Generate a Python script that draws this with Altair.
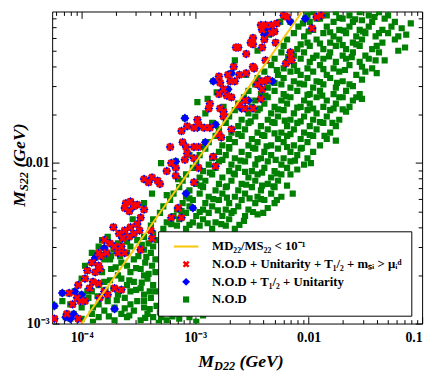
import altair as alt
import pandas as pd

SERIF = "Liberation Serif"

# ---- data (log10 of M_D22 and M_S22, in GeV) ----
green_log = [
    (-2.01,-1.08),(-1.96,-1.06),(-1.84,-1.08),(-1.76,-1.06),(-1.64,-1.08),(-1.55,-1.06),(-1.47,-1.08),(-1.38,-1.06),(-1.30,-1.08),
    (-2.05,-1.13),(-1.99,-1.12),(-1.90,-1.10),(-1.78,-1.12),(-1.70,-1.10),(-1.61,-1.12),(-1.53,-1.11),(-1.44,-1.12),(-1.33,-1.10),(-1.24,-1.12),(-1.10,-1.13),
    (-2.09,-1.15),(-1.96,-1.17),(-1.84,-1.15),(-1.73,-1.17),(-1.64,-1.15),(-1.55,-1.17),(-1.47,-1.15),(-1.35,-1.17),(-1.27,-1.15),
    (-2.13,-1.19),(-2.04,-1.21),(-1.87,-1.19),(-1.78,-1.21),(-1.67,-1.19),(-1.58,-1.21),(-1.50,-1.19),(-1.41,-1.21),(-1.30,-1.19),(-1.21,-1.21),
    (-2.19,-1.23),(-2.01,-1.25),(-1.93,-1.23),(-1.81,-1.25),(-1.73,-1.23),(-1.61,-1.25),(-1.53,-1.23),(-1.35,-1.25),(-1.24,-1.23),
    (-2.22,-1.27),(-2.10,-1.29),(-1.99,-1.27),(-1.87,-1.29),(-1.76,-1.27),(-1.67,-1.29),(-1.55,-1.27),(-1.44,-1.29),(-1.15,-1.28),(-1.21,-1.30),
    (-2.24,-1.31),(-2.13,-1.33),(-2.04,-1.31),(-1.93,-1.33),(-1.81,-1.31),(-1.70,-1.33),(-1.61,-1.31),(-1.50,-1.33),(-1.38,-1.31),
    (-2.30,-1.35),(-2.19,-1.37),(-2.07,-1.35),(-1.99,-1.37),(-1.87,-1.35),(-1.76,-1.37),(-1.67,-1.35),(-1.55,-1.37),(-1.33,-1.36),(-1.41,-1.36),
    (-2.33,-1.39),(-2.22,-1.41),(-2.13,-1.39),(-2.01,-1.41),(-1.90,-1.39),(-1.78,-1.41),(-1.64,-1.39),(-1.44,-1.41),(-1.53,-1.40),
    (-2.39,-1.43),(-2.27,-1.45),(-2.16,-1.43),(-2.07,-1.45),(-1.96,-1.43),(-1.84,-1.45),(-1.73,-1.43),(-1.58,-1.45),(-1.50,-1.43),
    (-2.45,-1.47),(-2.33,-1.49),(-2.22,-1.47),(-2.13,-1.49),(-2.01,-1.47),(-1.93,-1.49),(-1.81,-1.47),(-1.70,-1.49),(-1.53,-1.48),
    (-2.47,-1.51),(-2.36,-1.53),(-2.24,-1.51),(-2.16,-1.53),(-2.04,-1.51),(-1.96,-1.53),(-1.87,-1.51),(-1.76,-1.53),(-1.61,-1.52),
    (-2.53,-1.55),(-2.42,-1.57),(-2.30,-1.55),(-2.22,-1.57),(-2.10,-1.55),(-1.99,-1.57),(-1.90,-1.55),(-1.78,-1.57),(-1.67,-1.55),(-1.55,-1.57),
    (-2.57,-1.59),(-2.47,-1.61),(-2.36,-1.59),(-2.24,-1.61),(-2.16,-1.59),(-2.04,-1.61),(-1.93,-1.59),(-1.84,-1.61),(-1.73,-1.59),(-1.61,-1.61),(-1.53,-1.60),
    (-2.62,-1.63),(-2.50,-1.65),(-2.39,-1.63),(-2.30,-1.65),(-2.19,-1.63),(-2.07,-1.65),(-1.99,-1.63),(-1.87,-1.65),(-1.76,-1.63),(-1.64,-1.65),
    (-2.65,-1.67),(-2.53,-1.69),(-2.45,-1.67),(-2.33,-1.69),(-2.22,-1.67),(-2.13,-1.69),(-2.01,-1.67),(-1.93,-1.69),(-1.81,-1.67),(-1.67,-1.68),
    (-2.70,-1.71),(-2.59,-1.73),(-2.47,-1.71),(-2.36,-1.73),(-2.27,-1.71),(-2.16,-1.73),(-2.04,-1.71),(-1.96,-1.73),(-1.84,-1.71),(-1.73,-1.73),
    (-2.73,-1.75),(-2.62,-1.77),(-2.53,-1.75),(-2.42,-1.77),(-2.30,-1.75),(-2.19,-1.77),(-2.10,-1.75),(-1.99,-1.77),(-1.87,-1.75),(-1.76,-1.77),
    (-2.79,-1.79),(-2.68,-1.81),(-2.56,-1.79),(-2.45,-1.81),(-2.36,-1.79),(-2.24,-1.81),(-2.13,-1.79),(-2.04,-1.81),(-1.93,-1.79),(-1.81,-1.81),
    (-2.82,-1.83),(-2.70,-1.85),(-2.59,-1.83),(-2.50,-1.85),(-2.39,-1.83),(-2.27,-1.85),(-2.19,-1.83),(-2.07,-1.85),(-1.96,-1.83),(-1.84,-1.85),(-1.76,-1.86),
    (-2.88,-1.87),(-2.76,-1.89),(-2.65,-1.87),(-2.53,-1.89),(-2.45,-1.87),(-2.33,-1.89),(-2.22,-1.87),(-2.13,-1.89),(-2.01,-1.87),(-1.90,-1.89),
    (-2.91,-1.91),(-2.79,-1.93),(-2.70,-1.91),(-2.59,-1.93),(-2.47,-1.91),(-2.39,-1.93),(-2.27,-1.91),(-2.16,-1.93),(-2.07,-1.91),(-1.96,-1.93),
    (-2.96,-1.95),(-2.85,-1.97),(-2.73,-1.95),(-2.65,-1.97),(-2.53,-1.95),(-2.42,-1.97),(-2.33,-1.95),(-2.22,-1.97),(-2.10,-1.95),(-2.01,-1.97),
    (-2.99,-1.99),(-2.88,-2.01),(-2.79,-1.99),(-2.68,-2.01),(-2.56,-1.99),(-2.47,-2.01),(-2.36,-1.99),(-2.24,-2.01),(-2.16,-1.99),(-2.04,-2.01),
    (-3.02,-2.03),(-2.93,-2.05),(-2.82,-2.03),(-2.70,-2.05),(-2.62,-2.03),(-2.50,-2.05),(-2.39,-2.03),(-2.30,-2.05),(-2.19,-2.03),(-2.10,-2.04),
    (-3.08,-2.07),(-2.96,-2.09),(-2.85,-2.07),(-2.76,-2.09),(-2.65,-2.07),(-2.53,-2.09),(-2.45,-2.07),(-2.33,-2.09),(-2.24,-2.07),
    (-3.11,-2.11),(-2.99,-2.13),(-2.91,-2.11),(-2.79,-2.13),(-2.68,-2.11),(-2.59,-2.13),(-2.47,-2.11),(-2.36,-2.13),(-2.27,-2.11),(-2.19,-2.14),
    (-3.14,-2.15),(-3.05,-2.17),(-2.93,-2.15),(-2.82,-2.17),(-2.73,-2.15),(-2.62,-2.17),(-2.50,-2.15),(-2.42,-2.17),(-2.30,-2.15),(-2.14,-2.19),
    (-3.19,-2.19),(-3.08,-2.21),(-2.96,-2.19),(-2.88,-2.21),(-2.76,-2.19),(-2.65,-2.21),(-2.56,-2.19),(-2.45,-2.21),(-2.33,-2.19),(-2.24,-2.21),
    (-3.22,-2.23),(-3.11,-2.25),(-3.02,-2.23),(-2.91,-2.25),(-2.79,-2.23),(-2.70,-2.25),(-2.59,-2.23),(-2.47,-2.25),(-2.39,-2.23),(-2.30,-2.25),
    (-3.28,-2.27),(-3.16,-2.29),(-3.05,-2.27),(-2.93,-2.29),(-2.85,-2.27),(-2.73,-2.29),(-2.62,-2.27),(-2.53,-2.29),(-2.36,-2.28),
    (-3.31,-2.31),(-3.19,-2.33),(-3.08,-2.31),(-2.99,-2.33),(-2.88,-2.31),(-2.76,-2.33),(-2.68,-2.31),(-2.56,-2.33),(-2.45,-2.32),
    (-3.37,-2.35),(-3.25,-2.37),(-3.14,-2.35),(-3.02,-2.37),(-2.93,-2.35),(-2.82,-2.37),(-2.70,-2.35),(-2.57,-2.36),
    (-3.39,-2.39),(-3.28,-2.41),(-3.16,-2.39),(-3.08,-2.41),(-2.96,-2.39),(-2.85,-2.41),(-2.73,-2.39),(-2.65,-2.41),
    (-3.77,-2.46),(-3.62,-2.44),(-3.45,-2.46),(-3.37,-2.44),
    (-3.82,-2.48),(-3.68,-2.50),(-3.51,-2.48),(-3.41,-2.50),(-3.34,-2.48),
    (-3.85,-2.52),(-3.72,-2.54),(-3.57,-2.52),(-3.45,-2.54),(-3.37,-2.52),
    (-3.91,-2.56),(-3.74,-2.58),(-3.60,-2.56),(-3.50,-2.58),(-3.39,-2.56),
    (-3.80,-2.60),(-3.65,-2.62),(-3.54,-2.60),(-3.44,-2.62),(-3.35,-2.60),
    (-3.97,-2.64),(-3.74,-2.66),(-3.60,-2.64),(-3.48,-2.66),(-3.38,-2.64),
    (-3.82,-2.68),(-3.68,-2.70),(-3.57,-2.68),(-3.45,-2.70),(-3.35,-2.68),
    (-4.00,-2.72),(-3.80,-2.74),(-3.65,-2.72),(-3.54,-2.74),(-3.42,-2.72),
    (-3.85,-2.76),(-3.72,-2.78),(-3.60,-2.76),(-3.48,-2.78),(-3.37,-2.76),
    (-3.91,-2.80),(-3.68,-2.82),(-3.57,-2.80),(-3.45,-2.82),(-3.35,-2.80),
    (-4.17,-2.86),(-3.94,-2.84),(-3.77,-2.86),(-3.62,-2.84),(-3.51,-2.86),(-3.39,-2.84),
    (-4.26,-2.88),(-4.00,-2.90),(-3.85,-2.88),(-3.71,-2.90),(-3.57,-2.88),(-3.45,-2.90),(-3.34,-2.89),
    (-3.91,-2.94),(-3.80,-2.92),(-3.65,-2.94),(-3.54,-2.92),(-3.42,-2.94),(-3.31,-2.93),(-3.19,-2.94),(-3.11,-2.93),(-2.99,-2.93),(-2.88,-2.92),
    (-4.00,-2.97),(-3.85,-2.96),(-3.71,-2.98),(-3.60,-2.96),(-3.48,-2.98),(-3.37,-2.96),(-3.25,-2.98),(-3.14,-2.97),(-2.99,-2.99),
    (-2.65,-1.36),(-2.98,-1.62),(-2.81,-1.56),(-2.89,-1.60),(-2.91,-1.69),(-3.30,-2.00),(-3.38,-2.19),(-3.25,-2.20),(-3.15,-2.10),
    (-3.05,-1.95),(-2.95,-1.90),(-2.85,-1.75),(-2.75,-1.65),(-2.55,-1.45),(-2.45,-1.30),(-2.35,-1.20),(-2.25,-1.12),(-3.55,-2.35),
    (-3.65,-2.45),(-3.45,-2.25),(-3.75,-2.60),(-3.95,-2.80),(-4.10,-2.88),
    (-1.93,-1.100),(-1.73,-1.095),(-1.59,-1.105),(-1.42,-1.090),(-1.18,-1.160),
    (-2.00,-1.180),(-1.81,-1.185),(-1.69,-1.175),(-1.52,-1.180),(-1.38,-1.190),(-1.14,-1.200),
    (-2.07,-1.260),(-1.90,-1.255),(-1.70,-1.265),(-1.58,-1.260),(-1.40,-1.270),
    (-2.18,-1.340),(-1.96,-1.345),(-1.82,-1.335),(-1.62,-1.340),(-1.47,-1.350),
    (-2.28,-1.420),(-2.10,-1.425),(-1.87,-1.415),(-1.68,-1.420),(-1.40,-1.440),
    (-2.30,-1.500),(-2.08,-1.505),(-1.90,-1.495),(-1.75,-1.500),(-1.64,-1.510),
    (-2.38,-1.580),(-2.20,-1.585),(-2.01,-1.575),(-1.88,-1.580),(-1.70,-1.590),(-1.58,-1.590),
    (-2.43,-1.660),(-2.27,-1.665),(-2.10,-1.655),(-1.96,-1.660),(-1.78,-1.660),(-1.70,-1.665),
    (-2.51,-1.740),(-2.32,-1.745),(-2.21,-1.735),(-2.07,-1.740),(-1.90,-1.745),(-1.79,-1.750),
    (-2.62,-1.820),(-2.41,-1.825),(-2.30,-1.815),(-2.16,-1.820),(-1.99,-1.825),(-1.86,-1.830),
    (-2.70,-1.900),(-2.49,-1.905),(-2.37,-1.895),(-2.19,-1.900),(-2.06,-1.905),
    (-2.76,-1.980),(-2.60,-1.985),(-2.45,-1.975),(-2.29,-1.980),(-2.12,-1.985),(-1.98,-2.000),
    (-2.87,-2.060),(-2.66,-2.065),(-2.56,-2.055),(-2.41,-2.060),(-2.28,-2.065),(-2.16,-2.070),
    (-2.95,-2.140),(-2.72,-2.145),(-2.55,-2.135),(-2.41,-2.140),(-2.31,-2.145),
    (-3.05,-2.220),(-2.84,-2.225),(-2.72,-2.215),(-2.52,-2.220),(-2.42,-2.225),(-2.28,-2.230),
    (-3.12,-2.300),(-2.96,-2.305),(-2.80,-2.295),(-2.66,-2.300),(-2.49,-2.305),(-2.40,-2.310),
    (-3.21,-2.380),(-3.05,-2.385),(-2.89,-2.375),(-2.77,-2.380),(-2.61,-2.385),
    (-3.60,-2.490),(-3.47,-2.510),(-3.66,-2.580),(-3.43,-2.585),(-3.70,-2.650),(-3.52,-2.655),
    (-3.41,-2.690),(-3.75,-2.730),(-3.58,-2.730),(-3.47,-2.745),(-3.79,-2.790),(-3.52,-2.790),
    (-3.40,-2.800),(-3.86,-2.830),(-3.69,-2.855),(-3.45,-2.860),(-3.90,-2.900),(-3.62,-2.905),
    (-3.40,-2.910),(-3.76,-2.955),(-3.58,-2.950),(-3.44,-2.965),(-3.30,-2.960),(-3.20,-2.955),
    (-3.05,-2.960),(-2.93,-2.950),(-3.90,-2.990),(-3.32,-2.995),
]

blue_log = [
    (-2.03,-1.10),(-2.16,-1.12),(-2.36,-1.16),(-2.39,-1.20),(-2.32,-1.49),(-2.53,-1.61),(-2.59,-1.66),
    (-2.84,-1.49),(-2.71,-1.54),(-2.68,-1.44),
    (-3.09,-1.72),(-2.82,-1.76),(-2.91,-1.87),(-3.17,-1.99),(-3.08,-2.19),(-3.02,-2.28),(-2.98,-1.78),
    (-3.80,-2.53),(-3.88,-2.59),(-4.06,-2.80),(-4.00,-2.82),(-4.17,-2.81),(-4.14,-2.96),(-4.10,-2.97),
    (-4.24,-2.89),(-4.07,-2.94),(-3.71,-2.91),
]

red_log = [
    (-2.22,-1.08),(-2.19,-1.09),(-1.93,-1.09),(-1.89,-1.08),(-2.42,-1.14),(-2.38,-1.14),(-2.33,-1.14),(-2.28,-1.13),
    (-2.41,-1.17),(-2.33,-1.19),(-2.30,-1.18),(-1.97,-1.16),(-2.49,-1.22),(-2.51,-1.25),(-2.49,-1.26),(-2.39,-1.23),
    (-2.41,-1.28),(-2.29,-1.25),(-2.55,-1.32),(-2.62,-1.28),(-2.16,-1.31),(-2.16,-1.34),(-2.15,-1.36),(-2.20,-1.38),
    (-2.38,-1.36),(-2.49,-1.40),(-2.48,-1.41),(-2.55,-1.44),(-2.61,-1.45),(-2.42,-1.49),(-2.39,-1.49),(-2.36,-1.48),
    (-2.45,-1.51),(-2.41,-1.54),(-2.42,-1.60),(-2.56,-1.61),(-2.49,-1.66),(-2.56,-1.66),(-2.61,-1.64),
    (-2.64,-1.28),(-2.66,-1.40),(-2.71,-1.45),(-2.79,-1.46),(-2.78,-1.50),(-2.69,-1.49),(-2.65,-1.49),(-2.75,-1.54),
    (-2.79,-1.57),(-2.72,-1.58),(-2.68,-1.59),(-2.87,-1.63),(-2.88,-1.66),(-2.78,-1.66),(-2.75,-1.68),
    (-2.98,-1.73),(-2.97,-1.76),(-3.07,-1.77),(-3.12,-1.80),(-3.01,-1.78),(-2.92,-1.78),(-2.87,-1.78),(-2.79,-1.82),
    (-2.77,-1.84),(-2.68,-1.79),(-2.75,-1.71),(-3.22,-1.90),(-3.11,-1.87),(-3.08,-1.90),(-3.01,-1.90),(-2.97,-1.90),
    (-3.07,-1.94),(-3.09,-1.98),(-3.01,-1.97),(-2.84,-1.96),(-2.82,-2.02),(-3.21,-2.00),(-3.17,-2.03),(-3.17,-2.08),
    (-3.25,-2.05),(-2.97,-2.03),(-3.01,-2.12),(-3.38,-2.09),(-3.41,-2.12),(-3.33,-2.11),(-3.15,-2.28),(-3.21,-2.34),(-3.12,-2.34),
    (-3.45,-2.10),(-3.31,-2.13),(-3.61,-2.25),(-3.57,-2.24),(-3.54,-2.27),(-3.58,-2.30),(-3.51,-2.26),(-3.62,-2.28),
    (-3.45,-2.29),(-3.48,-2.34),(-3.72,-2.40),(-3.67,-2.44),(-3.62,-2.42),(-3.57,-2.40),(-3.51,-2.38),(-3.49,-2.42),
    (-3.54,-2.44),(-3.58,-2.46),(-3.64,-2.47),(-3.39,-2.42),(-3.38,-2.47),(-3.80,-2.48),(-3.75,-2.50),(-3.85,-2.56),
    (-3.83,-2.58),(-3.78,-2.56),(-3.71,-2.52),(-3.65,-2.52),(-3.62,-2.56),(-3.68,-2.56),(-3.91,-2.62),(-3.85,-2.64),
    (-3.95,-2.67),(-3.88,-2.68),(-3.84,-2.66),(-3.97,-2.72),(-3.90,-2.74),(-3.85,-2.75),(-4.03,-2.76),(-3.93,-2.78),
    (-4.11,-2.81),(-4.04,-2.84),(-4.01,-2.86),(-4.08,-2.88),(-3.97,-2.86),(-3.80,-2.80),(-3.77,-2.82),(-3.84,-2.84),
    (-3.71,-2.78),(-3.65,-2.79),(-4.24,-2.97),(-4.13,-2.94),(-4.03,-2.97),(-3.48,-2.54),
]

# ratio line  M_D22 / M_S22 = 10^-1
line_mdd = [1.0e-4, 8.8e-3]
line_mss = [1.0e-3, 8.8e-2]

LAB_LINE = "MD\u2082\u2082/MS\u2082\u2082 < 10\u207b\u00b9"
LAB_RED = "N.O.D + Unitarity + T\u2081/\u2082 + m\u209b\u1d62 > \u03bc\u1d62\u1d48"
LAB_BLUE = "N.O.D + T\u2081/\u2082 + Unitarity"
LAB_GREEN = "N.O.D"
series_order = [LAB_LINE, LAB_RED, LAB_BLUE, LAB_GREEN]
series_colors = ["#f9c80e", "#ff0000", "#0000ff", "#008000"]

P_LINE = "M-3.57,-0.3L3.57,-0.3L3.57,0.3L-3.57,0.3Z"
P_X = "M-1,-0.5L-0.5,-1L0,-0.5L0.5,-1L1,-0.5L0.5,0L1,0.5L0.5,1L0,0.5L-0.5,1L-1,0.5L-0.5,0Z"
P_DIAMOND = "M0,-1.15L1.15,0L0,1.15L-1.15,0Z"
P_SQUARE = "M-0.9,-0.9L0.9,-0.9L0.9,0.9L-0.9,0.9Z"
series_shapes = [P_LINE, P_X, P_DIAMOND, P_SQUARE]


def frame(points, label):
    return pd.DataFrame({
        "mdd": [10 ** p[0] for p in points],
        "mss": [10 ** p[1] for p in points],
        "series": label,
    })


df_green = frame(green_log + blue_log + red_log, LAB_GREEN)
df_blue = frame(blue_log + red_log, LAB_BLUE)
df_red = frame(red_log, LAB_RED)
df_line = pd.DataFrame({"mdd": line_mdd, "mss": line_mss})

xscale = alt.Scale(type="log", domain=[5.5e-5, 0.1], nice=False)
yscale = alt.Scale(type="log", domain=[1e-3, 0.088], nice=False)
cscale = alt.Scale(domain=series_order, range=series_colors)
sscale = alt.Scale(domain=series_order, range=series_shapes)

legend = alt.Legend(
    title=None, orient="none", legendX=108, legendY=224,
    fillColor="white", strokeColor="black", padding=9,
    labelFont=SERIF, labelFontWeight="bold", labelFontSize=13, labelColor="black",
    labelLimit=400, symbolSize=49, symbolStrokeWidth=0, rowPadding=4,
    symbolOffset=13, labelOffset=20, cornerRadius=0,
)

major = "abs(log(datum.value)/LN10 - round(log(datum.value)/LN10)) < 0.001"
tsize = {"condition": {"test": major, "value": 7}, "value": 4}

xlab = ("abs(log(datum.value)/LN10+4)<0.01 ? '10\u207b\u2074' : "
        "abs(log(datum.value)/LN10+3)<0.01 ? '10\u207b\u00b3' : "
        "abs(log(datum.value)/LN10+2)<0.01 ? '0.01' : "
        "abs(log(datum.value)/LN10+1)<0.01 ? '0.1' : ''")
ylab = ("abs(log(datum.value)/LN10+3)<0.01 ? '10\u207b\u00b3' : "
        "abs(log(datum.value)/LN10+2)<0.01 ? '0.01' : ''")

W, H = 377, 318

ax_x_lab = alt.Axis(orient="bottom", ticks=False, domain=False, grid=False, title=None,
                    labelExpr=xlab, labelPadding=7, labelOverlap=False, labelFlush=True)
ax_y_lab = alt.Axis(orient="left", ticks=False, domain=False, grid=False, title=None,
                    labelExpr=ylab, labelPadding=3, labelOverlap=False, labelFlush=False)
ax_x_bot = alt.Axis(orient="top", offset=-H, labels=False, domain=False, grid=False,
                    title=None, tickSize=tsize)
ax_x_top = alt.Axis(orient="bottom", offset=-H, labels=False, domain=False, grid=False,
                    title=None, tickSize=tsize)
ax_y_left = alt.Axis(orient="right", offset=-W, labels=False, domain=False, grid=False,
                     title=None, tickSize=tsize)
ax_y_right = alt.Axis(orient="left", offset=-W, labels=False, domain=False, grid=False,
                      title=None, tickSize=tsize)


def pts(df, size, ax, ay):
    return alt.Chart(df).mark_point(filled=True, opacity=1, size=size, strokeWidth=0, clip=True).encode(
        x=alt.X("mdd:Q", scale=xscale, axis=ax),
        y=alt.Y("mss:Q", scale=yscale, axis=ay),
        color=alt.Color("series:N", scale=cscale, legend=legend),
        shape=alt.Shape("series:N", scale=sscale, legend=legend),
    )


green = pts(df_green, 49, ax_x_lab, ax_y_lab)
blue = pts(df_blue, 64, ax_x_bot, ax_y_left)
red = pts(df_red, 64, ax_x_top, ax_y_right)

line = alt.Chart(df_line).mark_line(color="#f9c80e", strokeWidth=2, clip=True).encode(
    x=alt.X("mdd:Q", scale=xscale, axis=None),
    y=alt.Y("mss:Q", scale=yscale, axis=None),
)


def piece(text, x, y, size, angle=0):
    return alt.Chart(alt.Data(values=[{}])).mark_text(
        text=text, align="left", baseline="alphabetic", font=SERIF, fontSize=size,
        fontWeight="bold", fontStyle="italic", angle=angle, color="black",
    ).encode(x=alt.value(x), y=alt.value(y))


titles = [
    piece("M", 149, 362, 18),
    piece("D22", 165, 365, 12.5),
    piece("(GeV)", 191, 362, 18),
    piece("M", -28, 199, 18, 270),
    piece("S22", -25, 183, 12.5, 270),
    piece("(GeV)", -28, 159, 18, 270),
]

chart = alt.layer(green, blue, red, line, *titles).resolve_axis(
    x="independent", y="independent"
).properties(
    width=W, height=H,
    autosize=alt.AutoSizeParams(type="none"),
    padding={"left": 45, "top": 0, "right": 6, "bottom": 56},
).configure_view(
    stroke="black", strokeWidth=1
).configure_axis(
    labelFont=SERIF, labelFontWeight="bold", labelFontSize=14, labelColor="black",
    tickColor="black", tickWidth=1,
)

chart.save("out.html", embed_options={"renderer": "svg", "actions": False})
